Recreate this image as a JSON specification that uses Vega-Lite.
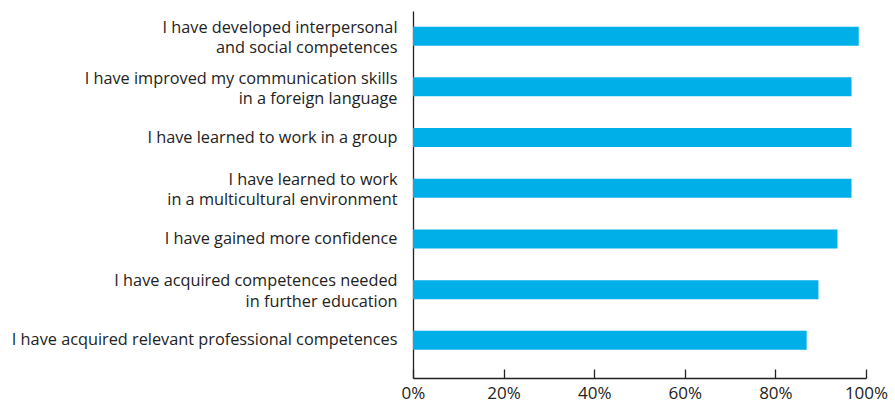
{
  "$schema": "https://vega.github.io/schema/vega-lite/v6.json",
  "width": 453,
  "height": 367,
  "autosize": {"type": "none"},
  "padding": {"left": 413, "top": 11, "right": 29, "bottom": 24},
  "background": "white",
  "data": {
    "values": [
      {"item": "I have developed interpersonal|and social competences", "value": 0.984},
      {"item": "I have improved my communication skills|in a foreign language", "value": 0.968},
      {"item": "I have learned to work in a group", "value": 0.968},
      {"item": "I have learned to work|in a multicultural environment", "value": 0.968},
      {"item": "I have gained more confidence", "value": 0.937},
      {"item": "I have acquired competences needed|in further education", "value": 0.895},
      {"item": "I have acquired relevant professional competences", "value": 0.869}
    ]
  },
  "config": {
    "view": {"stroke": null},
    "font": "Open Sans"
  },
  "mark": {"type": "bar", "color": "#00AFE8"},
  "encoding": {
    "y": {
      "field": "item",
      "type": "nominal",
      "sort": null,
      "scale": {"paddingInner": 0.625, "paddingOuter": 0.432, "align": 0.357},
      "axis": {
        "title": null,
        "ticks": false,
        "domainColor": "#222222",
        "domainWidth": 1.3,
        "labelExpr": "split(datum.label, '|')",
        "labelFontSize": 16.3,
        "labelColor": "#222222",
        "labelPadding": 16,
        "labelLineHeight": 20.5,
        "labelLimit": 420,
        "labelOffset": {"condition": {"test": "indexof(datum.value, '|') >= 0", "value": -8.25}, "value": 0}
      }
    },
    "x": {
      "field": "value",
      "type": "quantitative",
      "scale": {"domain": [0, 1]},
      "axis": {
        "title": null,
        "format": ".0%",
        "values": [0, 0.2, 0.4, 0.6, 0.8, 1],
        "grid": false,
        "domainColor": "#222222",
        "domainWidth": 1.3,
        "tickColor": "#222222",
        "tickWidth": 1.3,
        "tickSize": -9,
        "labelFontSize": 17,
        "labelColor": "#222222",
        "labelPadding": 16,
        "labelFlush": false
      }
    }
  }
}
